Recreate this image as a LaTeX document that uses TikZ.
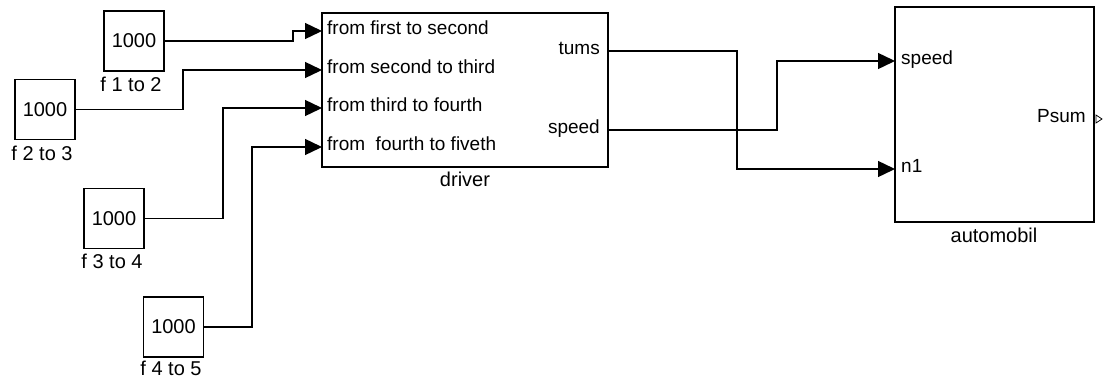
\documentclass[tikz,border=0pt]{standalone}
\usepackage{fontspec}
\setmainfont{Liberation Sans}
\usetikzlibrary{arrows.meta}
\begin{document}
\begin{tikzpicture}[x=1pt,y=-1pt,
  blk/.style={draw,line width=1.6pt,inner sep=0pt},
  cblk/.style={blk,minimum width=60pt,minimum height=60pt,font=\fontsize{20}{24}\selectfont},
  bname/.style={inner sep=0pt,text height=0.72em,text depth=0pt,font=\fontsize{20}{24}\selectfont},
  port/.style={inner sep=0pt,text height=0.6em,text depth=0pt,font=\fontsize{19}{22}\selectfont},
  wire/.style={line width=1.4pt,-{Triangle[length=17pt,width=16pt]}},
  owire/.style={line width=1.4pt}]
\useasboundingbox (0,0) rectangle (1104,383);
% constant sources
\node[cblk] (c1) at (134,41) {1000};
\node[cblk] (c2) at (45,109.5) {1000};
\node[cblk] (c3) at (114,218.5) {1000};
\node[cblk] (c4) at (173.5,327) {1000};
\node[bname] (c1l) at (131,88) {f 1 to 2};
\node[bname] (c2l) at (42,157) {f 2 to 3};
\node[bname] (c3l) at (112,265) {f 3 to 4};
\node[bname] (c4l) at (171,372) {f 4 to 5};
% driver subsystem
\node[blk,minimum width=286pt,minimum height=154pt] (drv) at (465,90) {};
\node[bname] (drvl) at (465,183) {driver};
\coordinate (d1) at (322,31);
\coordinate (d2) at (322,70);
\coordinate (d3) at (322,108);
\coordinate (d4) at (322,147);
\coordinate (do1) at (608,51);
\coordinate (do2) at (608,130);
\node[port,anchor=west] (dl1) at (327,31) {from first to second};
\node[port,anchor=west] (dl2) at (327,70) {from second to third};
\node[port,anchor=west] (dl3) at (327,108) {from third to fourth};
\node[port,anchor=west] (dl4) at (327,147) {from\ \ fourth to fiveth};
\node[port,anchor=east] (dol1) at (600,51) {tums};
\node[port,anchor=east] (dol2) at (600,130) {speed};
% automobile subsystem
\node[blk,minimum width=199pt,minimum height=215pt] (car) at (994.5,114.5) {};
\node[bname] (carl) at (994,239) {automobil};
\coordinate (a1) at (895,61);
\coordinate (a2) at (895,169);
\node[port,anchor=west] (al1) at (901,61) {speed};
\node[port,anchor=west] (al2) at (901,169) {n1};
\node[port,anchor=east] (aol) at (1086,119) {Psum};
\draw[line width=0.8pt] (1096,115) -- (1102,119) -- (1096,123) -- cycle;
% signal lines
\draw[wire] (c1.east) -- (293,41) |- (d1);
\draw[wire] (c2.east) -- (183,109.5) |- (d2);
\draw[wire] (c3.east) -- (223,218.5) |- (d3);
\draw[wire] (c4.east) -- (252,327) |- (d4);
\draw[wire] (do1) -- (737,51) |- (a2);
\draw[wire] (do2) -- (777,130) |- (a1);
\end{tikzpicture}
\end{document}
